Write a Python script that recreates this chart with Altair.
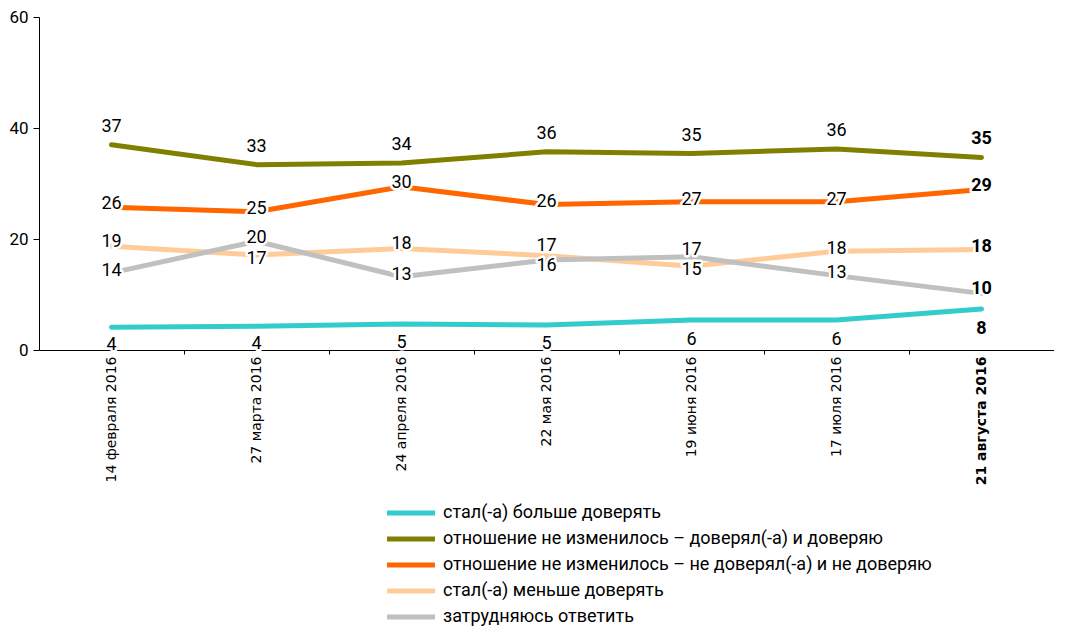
import altair as alt
import pandas as pd

# ---- data ----
dates = ["14 февраля 2016", "27 марта 2016", "24 апреля 2016", "22 мая 2016",
         "19 июня 2016", "17 июля 2016", "21 августа 2016"]
series = [
    "стал(-а) больше доверять",
    "отношение не изменилось – доверял(-а) и доверяю",
    "отношение не изменилось – не доверял(-а) и не доверяю",
    "стал(-а) меньше доверять",
    "затрудняюсь ответить",
]
colors = ["#33CCCC", "#808000", "#FF6600", "#FFCC99", "#C0C0C0"]

more_trust = [4.1, 4.3, 4.7, 4.5, 5.4, 5.4, 7.4]
same_trust = [37.0, 33.4, 33.7, 35.7, 35.4, 36.2, 34.7]
same_distrust = [25.7, 24.9, 29.4, 26.2, 26.7, 26.7, 28.9]
less_trust = [18.7, 17.1, 18.3, 17.0, 15.1, 17.8, 18.1]
hard_say = [13.9, 19.6, 13.2, 16.2, 16.8, 13.4, 10.2]

more_trust_lbl = [4, 4, 5, 5, 6, 6, 8]
same_trust_lbl = [37, 33, 34, 36, 35, 36, 35]
same_distrust_lbl = [26, 25, 30, 26, 27, 27, 29]
less_trust_lbl = [19, 17, 18, 17, 15, 18, 18]
hard_say_lbl = [14, 20, 13, 16, 17, 13, 10]

# label placement offsets (pixels, style only; positive = downwards)
more_trust_off = [18, 18, 19, 19, 20, 20, 20]
same_trust_off = [-18, -18, -18, -18, -18, -18, -18]
same_distrust_off = [-3, -3, -4, -3, -2, -2, -4]
less_trust_off = [-4, 4, -4, -10, 4, -2, -3]
hard_say_off = [-2, -3, -2, 6, -7, -3, -4]

values = [more_trust, same_trust, same_distrust, less_trust, hard_say]
labels = [more_trust_lbl, same_trust_lbl, same_distrust_lbl, less_trust_lbl, hard_say_lbl]
offsets = [more_trust_off, same_trust_off, same_distrust_off, less_trust_off, hard_say_off]

rows = []
for s, vals, labs, offs in zip(series, values, labels, offsets):
    for i, (v, l, o) in enumerate(zip(vals, labs, offs)):
        rows.append({"series": s, "idx": i, "value": v, "label": str(l), "dy": o})
df = pd.DataFrame(rows)

FONT = "Roboto"
PLOT_W, PLOT_H = 1015, 333
Y_MAX = 60
xscale = alt.Scale(domain=[-0.5, 6.5], nice=False, zero=False)
yscale = alt.Scale(domain=[0, Y_MAX], nice=False)
label_expr = "[" + ",".join("'" + d + "'" for d in dates) + "][datum.value]"

y_axis = alt.Axis(
    values=[0, 20, 40, 60], grid=False, title=None, tickSize=6, tickColor="black",
    domainColor="black", labelFont=FONT, labelFontSize=17, labelColor="black",
    labelPadding=5)

color = alt.Color(
    "series:N",
    scale=alt.Scale(domain=series, range=colors),
    sort=series,
    legend=alt.Legend(
        title=None, orient="none", legendX=363, legendY=487, direction="vertical",
        symbolType="M-4.8,0H4.8", symbolSize=100, symbolStrokeWidth=5,
        labelFont=FONT, labelFontSize=18, labelColor="black", labelLimit=800,
        labelOffset=23, rowPadding=6,
    ),
)

lines = alt.Chart(df).mark_line(strokeWidth=5, strokeCap="round", strokeJoin="round").encode(
    x=alt.X("idx:Q", scale=xscale, axis=alt.Axis(
        values=[0.5, 1.5, 2.5, 3.5, 4.5, 5.5], labels=False, ticks=True, tickSize=4,
        tickColor="black", domain=True, domainColor="black", grid=False, title=None,
        orient="bottom")),
    y=alt.Y("value:Q", scale=yscale, axis=y_axis),
    color=color,
)

date_axis = alt.Chart(df).mark_point(opacity=0).encode(
    x=alt.X("idx:Q", scale=xscale, axis=alt.Axis(
        values=list(range(7)), ticks=False, domain=False, grid=False, title=None,
        labelExpr=label_expr, labelAngle=-90, labelFont="DejaVu Sans", labelFontSize=14,
        labelColor="black", labelPadding=6,
        labelFontWeight={"expr": "datum.value == 6 ? 'bold' : 'normal'"},
        orient="bottom")),
    y=alt.Y("value:Q", scale=yscale, axis=y_axis),
)


def text_layer(bold, halo):
    cond = "datum.idx == 6" if bold else "datum.idx < 6"
    kw = dict(font=FONT, fontSize=18, baseline="middle", align="center",
              fontWeight="bold" if bold else "normal")
    if halo:
        kw.update(stroke="white", strokeWidth=5, strokeJoin="round", fill="white")
    else:
        kw.update(fill="black")
    return alt.Chart(df).transform_filter(cond).transform_calculate(
        label_pos=f"datum.value - datum.dy * {Y_MAX} / {PLOT_H}"
    ).mark_text(**kw).encode(
        x=alt.X("idx:Q", scale=xscale, axis=None),
        y=alt.Y("label_pos:Q", scale=yscale, axis=y_axis),
        text="label:N",
    )


chart = alt.layer(
    lines, date_axis,
    text_layer(False, True), text_layer(True, True),
    text_layer(False, False), text_layer(True, False),
).resolve_axis(x="independent").properties(
    width=PLOT_W, height=PLOT_H, padding=0, background="white"
).configure_view(stroke=None)

chart.save("out.html", embed_options={"renderer": "svg", "actions": False})
